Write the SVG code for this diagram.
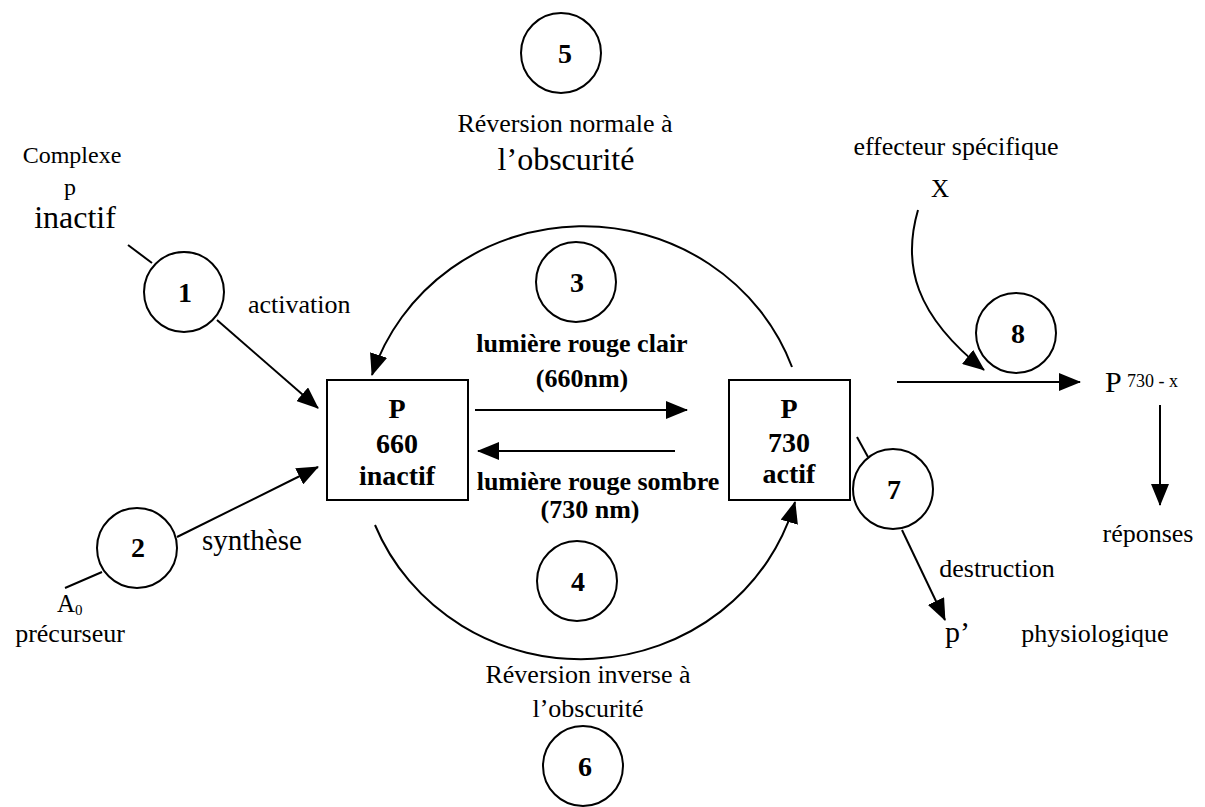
<svg xmlns="http://www.w3.org/2000/svg" width="1205" height="807" viewBox="0 0 1205 807">
<defs>
<marker id="ah" markerWidth="22" markerHeight="18" refX="21" refY="9" orient="auto" markerUnits="userSpaceOnUse"><path d="M0,0 L22,9 L0,18 Z" fill="#000"/></marker>
<style>
.t{font-family:"Liberation Serif","Times New Roman",serif;fill:#000}
.b{font-family:"Liberation Serif","Times New Roman",serif;font-weight:bold;fill:#000}
.n{font-family:"Liberation Serif","Times New Roman",serif;font-weight:bold;fill:#000;font-size:28px;text-anchor:middle}
.c{fill:#fff;stroke:#000;stroke-width:2}
.ln{fill:none;stroke:#000;stroke-width:2}
.ar{fill:none;stroke:#000;stroke-width:2;marker-end:url(#ah)}
</style>
</defs>
<rect width="1205" height="807" fill="#fff"/>

<g id="connectors">
<line class="ln" x1="128" y1="245" x2="152" y2="263"/>
<line class="ar" x1="217" y1="320" x2="318" y2="408"/>
<line class="ln" x1="102" y1="572" x2="65" y2="588"/>
<line class="ar" x1="177" y1="537" x2="318" y2="467"/>
<path class="ar" d="M792,367 A222,214 0 0,0 372,375"/>
<path class="ar" d="M375,525 A222,214 0 0,0 795,502"/>
<line class="ar" x1="475" y1="410" x2="687" y2="410"/>
<line class="ar" x1="675" y1="451" x2="478" y2="451"/>
<line class="ln" x1="857" y1="437" x2="868" y2="457"/>
<line class="ar" x1="902" y1="530" x2="945" y2="620"/>
<line class="ar" x1="897" y1="382" x2="1080" y2="382"/>
<path class="ar" d="M918,210 C902,265 915,315 984,370"/>
<line class="ar" x1="1160" y1="405" x2="1160" y2="505"/>
</g>

<g id="node-p660">
<rect class="c" x="327" y="380" width="141" height="120"/>
<text class="b" x="397" y="418" font-size="28" text-anchor="middle">P</text>
<text class="b" x="397" y="453" font-size="28" text-anchor="middle">660</text>
<text class="b" x="397" y="485" font-size="28" text-anchor="middle">inactif</text>
</g>

<g id="node-p730">
<rect class="c" x="729" y="380" width="121" height="120"/>
<text class="b" x="789" y="418" font-size="28" text-anchor="middle">P</text>
<text class="b" x="789" y="452" font-size="28" text-anchor="middle">730</text>
<text class="b" x="789" y="483" font-size="28" text-anchor="middle">actif</text>
</g>

<g id="node-1">
<circle class="c" cx="184" cy="292" r="40"/>
<text class="n" x="185" y="302">1</text>
</g>
<g id="node-2">
<circle class="c" cx="137" cy="548" r="40"/>
<text class="n" x="138" y="557">2</text>
</g>
<g id="node-3">
<circle class="c" cx="576" cy="282" r="40"/>
<text class="n" x="577" y="292">3</text>
</g>
<g id="node-4">
<circle class="c" cx="577" cy="581" r="40"/>
<text class="n" x="578" y="591">4</text>
</g>
<g id="node-5">
<circle class="c" cx="561" cy="53" r="40"/>
<text class="n" x="565" y="63">5</text>
</g>
<g id="node-6">
<circle class="c" cx="583" cy="766" r="40"/>
<text class="n" x="585" y="776">6</text>
</g>
<g id="node-7">
<circle class="c" cx="893" cy="489" r="40"/>
<text class="n" x="894" y="499">7</text>
</g>
<g id="node-8">
<circle class="c" cx="1016" cy="333" r="40"/>
<text class="n" x="1018" y="343">8</text>
</g>

<g id="labels">
<text class="t" x="72" y="163" font-size="24" text-anchor="middle">Complexe</text>
<text class="t" x="70" y="195" font-size="24" text-anchor="middle">p</text>
<text class="t" x="75" y="228" font-size="32" text-anchor="middle">inactif</text>
<text class="t" x="248" y="313" font-size="26">activation</text>
<text class="t" x="202" y="550" font-size="29">synthèse</text>
<text class="t" x="57" y="612" font-size="25">A<tspan font-size="15" dy="3">0</tspan></text>
<text class="t" x="70" y="642" font-size="26" text-anchor="middle">précurseur</text>
<text class="t" x="565" y="132" font-size="26" text-anchor="middle">Réversion normale à</text>
<text class="t" x="566" y="170" font-size="32" text-anchor="middle">l’obscurité</text>
<text class="b" x="582" y="352" font-size="26" text-anchor="middle">lumière rouge clair</text>
<text class="b" x="582" y="387" font-size="26" text-anchor="middle">(660nm)</text>
<text class="b" x="598" y="490" font-size="26" text-anchor="middle">lumière rouge sombre</text>
<text class="b" x="590" y="518" font-size="26" text-anchor="middle">(730 nm)</text>
<text class="t" x="588" y="683" font-size="26" text-anchor="middle">Réversion inverse à</text>
<text class="t" x="588" y="717" font-size="26" text-anchor="middle">l’obscurité</text>
<text class="t" x="956" y="155" font-size="26" text-anchor="middle">effecteur spécifique</text>
<text class="t" x="940" y="197" font-size="25" text-anchor="middle">X</text>
<text class="t" x="1105" y="392" font-size="30">P</text>
<text class="t" x="1127" y="387" font-size="18" xml:space="preserve">730 - x</text>
<text class="t" x="1148" y="542" font-size="26" text-anchor="middle">réponses</text>
<text class="t" x="997" y="577" font-size="26" text-anchor="middle">destruction</text>
<text class="t" x="945" y="642" font-size="30">p’</text>
<text class="t" x="1095" y="642" font-size="26" text-anchor="middle">physiologique</text>
</g>
</svg>
